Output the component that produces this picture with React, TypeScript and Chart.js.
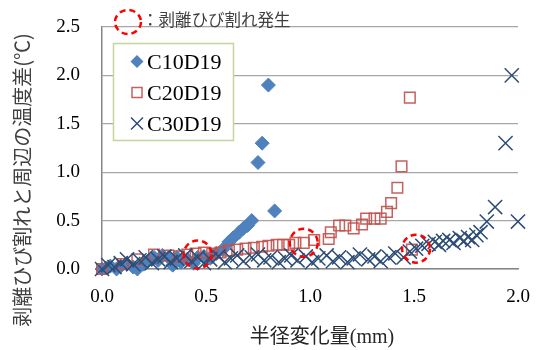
import React, { useEffect, useRef } from "react";
import { Chart, registerables } from "chart.js";
Chart.register(...registerables);

// ---- data ----
const seriesNames = ["C10D19", "C20D19", "C30D19"];

const c10x = [0, 0.02, 0.04, 0.07, 0.09, 0.12, 0.15, 0.17, 0.2, 0.22, 0.25, 0.27, 0.29, 0.32, 0.34, 0.36, 0.38, 0.41, 0.44, 0.46, 0.49, 0.52, 0.55, 0.58, 0.61, 0.63, 0.66, 0.68, 0.7, 0.72, 0.75, 0.77, 0.8, 0.83];
const c10y = [0, 0.01, 0.03, 0.0, 0.03, 0.05, 0.02, 0.0, 0.05, 0.08, 0.12, 0.09, 0.14, 0.12, 0.04, 0.12, 0.07, 0.1, 0.06, 0.12, 0.13, 0.11, 0.16, 0.2, 0.28, 0.32, 0.38, 0.42, 0.45, 0.5, 1.1, 1.3, 1.9, 0.6];

const c20x = [0, 0.1, 0.17, 0.25, 0.32, 0.37, 0.41, 0.45, 0.49, 0.53, 0.57, 0.61, 0.65, 0.69, 0.73, 0.77, 0.8, 0.84, 0.87, 0.9, 0.93, 0.97, 1.02, 1.09, 1.1, 1.14, 1.17, 1.21, 1.25, 1.27, 1.31, 1.34, 1.37, 1.39, 1.42, 1.44, 1.48, 1.49];
const c20y = [0, 0.05, 0.1, 0.15, 0.14, 0.13, 0.15, 0.16, 0.17, 0.16, 0.17, 0.19, 0.2, 0.21, 0.22, 0.23, 0.24, 0.25, 0.25, 0.25, 0.27, 0.27, 0.3, 0.31, 0.38, 0.45, 0.45, 0.42, 0.46, 0.52, 0.52, 0.52, 0.59, 0.68, 0.84, 1.06, 1.77, 0.2];

const c30x = [0, 0.03, 0.06, 0.09, 0.12, 0.15, 0.18, 0.21, 0.24, 0.27, 0.3, 0.33, 0.36, 0.4, 0.43, 0.46, 0.49, 0.52, 0.56, 0.59, 0.62, 0.65, 0.68, 0.72, 0.75, 0.78, 0.81, 0.85, 0.88, 0.91, 0.94, 0.98, 1.01, 1.04, 1.08, 1.11, 1.14, 1.18, 1.21, 1.24, 1.28, 1.31, 1.34, 1.38, 1.41, 1.45, 1.48, 1.51, 1.54, 1.57, 1.6, 1.62, 1.64, 1.67, 1.69, 1.72, 1.74, 1.76, 1.78, 1.8, 1.82, 1.85, 1.89, 1.94, 1.97, 2.0];
const c30y = [0, 0.04, 0.02, 0.06, 0.1, 0.05, 0.09, 0.12, 0.06, 0.1, 0.13, 0.07, 0.11, 0.14, 0.08, 0.12, 0.06, 0.1, 0.13, 0.07, 0.11, 0.14, 0.08, 0.12, 0.15, 0.09, 0.12, 0.07, 0.11, 0.14, 0.09, 0.13, 0.07, 0.11, 0.14, 0.08, 0.12, 0.07, 0.11, 0.15, 0.1, 0.13, 0.08, 0.12, 0.16, 0.12, 0.18, 0.21, 0.24, 0.26, 0.28, 0.25, 0.29, 0.3, 0.27, 0.32, 0.29, 0.33, 0.3, 0.35, 0.38, 0.49, 0.64, 1.3, 2.0, 0.49];

const xTicks = [0, 0.5, 1.0, 1.5, 2.0];
const yTicks = [0, 0.5, 1.0, 1.5, 2.0, 2.5];

const crackX = [0.46, 0.97, 1.51];
const crackY = [0.15, 0.27, 0.21];

const xTitle = "半径変化量(mm)";
const yTitle = "剥離ひび割れと周辺の温度差(℃)";
const noteText = "：剥離ひび割れ発生";

const C10_COLOR = "#4f81bd";
const C20_COLOR = "rgba(192,80,77,0.9)";
const C30_COLOR = "#2c4d75";

const toPts = (xs: number[], ys: number[]) => xs.map((x, i) => ({ x, y: ys[i] }));

const overlay = {
  id: "overlay",
  afterDatasetsDraw(chart: any) {
    const ctx = chart.ctx as CanvasRenderingContext2D;
    const xs = chart.scales.x;
    const ys = chart.scales.y;
    ctx.save();
    // crack ellipses
    ctx.strokeStyle = "#ff0000";
    ctx.lineWidth = 2.5;
    ctx.setLineDash([6, 4]);
    crackX.forEach((cx, i) => {
      ctx.beginPath();
      ctx.ellipse(xs.getPixelForValue(cx), ys.getPixelForValue(crackY[i]), 14, 14, 0, 0, Math.PI * 2);
      ctx.stroke();
    });
    // note marker
    ctx.beginPath();
    ctx.ellipse(128, 22, 13, 12, 0, 0, Math.PI * 2);
    ctx.stroke();
    ctx.setLineDash([]);
    ctx.fillStyle = "#404040";
    ctx.font = '16.5px "Noto Sans CJK JP"';
    ctx.textAlign = "left";
    ctx.textBaseline = "middle";
    ctx.fillText(noteText, 142, 20);

    // legend box
    ctx.fillStyle = "#ffffff";
    ctx.fillRect(113, 43, 120, 97);
    ctx.strokeStyle = "#c3d69b";
    ctx.lineWidth = 1.5;
    ctx.strokeRect(113.5, 43.5, 120, 97);
    const rows = [61.5, 92.5, 123.5];
    const mx = 137;
    // diamond
    ctx.fillStyle = C10_COLOR;
    ctx.beginPath();
    ctx.moveTo(mx, rows[0] - 6.5);
    ctx.lineTo(mx + 6.5, rows[0]);
    ctx.lineTo(mx, rows[0] + 6.5);
    ctx.lineTo(mx - 6.5, rows[0]);
    ctx.closePath();
    ctx.fill();
    // square
    ctx.strokeStyle = C20_COLOR;
    ctx.lineWidth = 1.5;
    ctx.strokeRect(mx - 5, rows[1] - 5, 10, 10);
    // cross
    ctx.strokeStyle = C30_COLOR;
    ctx.beginPath();
    ctx.moveTo(mx - 6, rows[2] - 6);
    ctx.lineTo(mx + 6, rows[2] + 6);
    ctx.moveTo(mx + 6, rows[2] - 6);
    ctx.lineTo(mx - 6, rows[2] + 6);
    ctx.stroke();
    ctx.fillStyle = "#000000";
    ctx.font = '22px "Liberation Serif"';
    ctx.textBaseline = "alphabetic";
    seriesNames.forEach((n, i) => ctx.fillText(n, 147, rows[i] + 7.5));

    // axis titles
    ctx.fillStyle = "#262626";
    ctx.font = '20px "Liberation Serif", "Noto Sans CJK JP"';
    ctx.textAlign = "center";
    ctx.textBaseline = "middle";
    ctx.fillText(xTitle, 322, 338);

    ctx.save();
    ctx.translate(22, 180);
    ctx.rotate(-Math.PI / 2);
    ctx.fillStyle = "#404040";
    ctx.font = '20px "Noto Sans CJK JP"';
    ctx.fillText(yTitle, 0, 0);
    ctx.restore();

    ctx.restore();
  },
};

export default function App() {
  const ref = useRef<HTMLCanvasElement | null>(null);
  useEffect(() => {
    document.body.style.margin = "0";
    const canvas = ref.current!;
    const chart = new Chart(canvas, {
      type: "scatter",
      data: {
        datasets: [
          {
            label: seriesNames[0],
            data: toPts(c10x, c10y),
            pointStyle: "rectRot",
            pointRadius: 7,
            backgroundColor: C10_COLOR,
            borderColor: C10_COLOR,
            borderWidth: 1,
            order: 2,
            clip: false as any,
          },
          {
            label: seriesNames[1],
            data: toPts(c20x, c20y),
            pointStyle: "rect",
            pointRadius: 7.5,
            backgroundColor: "rgba(0,0,0,0)",
            borderColor: C20_COLOR,
            borderWidth: 1.5,
            order: 1,
            clip: false as any,
          },
          {
            label: seriesNames[2],
            data: toPts(c30x, c30y),
            pointStyle: "crossRot",
            pointRadius: 10,
            backgroundColor: C30_COLOR,
            borderColor: C30_COLOR,
            borderWidth: 1.5,
            order: 0,
            clip: false as any,
          },
        ],
      },
      options: {
        animation: false,
        responsive: false,
        devicePixelRatio: 1,
        layout: { padding: { left: 0, top: 27, right: 29, bottom: 0 } },
        plugins: { legend: { display: false }, tooltip: { enabled: false } },
        scales: {
          x: {
            type: "linear",
            min: 0,
            max: 2,
            afterBuildTicks: (s: any) => {
              s.ticks = xTicks.map((v) => ({ value: v }));
            },
            afterFit: (s: any) => {
              s.height = 81;
              s.paddingLeft = 0;
              s.paddingRight = 0;
            },
            grid: { display: false, drawTicks: false },
            border: { display: true, color: "#868686", width: 1.5 },
            ticks: {
              padding: 17,
              maxRotation: 0,
              autoSkip: false,
              color: "#000000",
              font: { family: '"Liberation Serif"', size: 19 },
              callback: (v: any) => Number(v).toFixed(1),
            },
          },
          y: {
            type: "linear",
            min: 0,
            max: 2.5,
            afterBuildTicks: (s: any) => {
              s.ticks = yTicks.map((v) => ({ value: v }));
            },
            afterFit: (s: any) => {
              s.width = 102;
              s.paddingTop = 0;
              s.paddingBottom = 0;
            },
            grid: { color: "#a6a6a6", lineWidth: 1.25, drawTicks: false },
            border: { display: true, color: "#868686", width: 1.5 },
            ticks: {
              padding: 22,
              color: "#000000",
              font: { family: '"Liberation Serif"', size: 19 },
              callback: (v: any) => Number(v).toFixed(1),
            },
          },
        },
      },
      plugins: [overlay],
    } as any);
    return () => chart.destroy();
  }, []);
  return (
    <div style={{ position: "absolute", left: 0, top: 0, width: 547, height: 350, background: "#fff" }}>
      <canvas ref={ref} width={547} height={350} />
    </div>
  );
}
